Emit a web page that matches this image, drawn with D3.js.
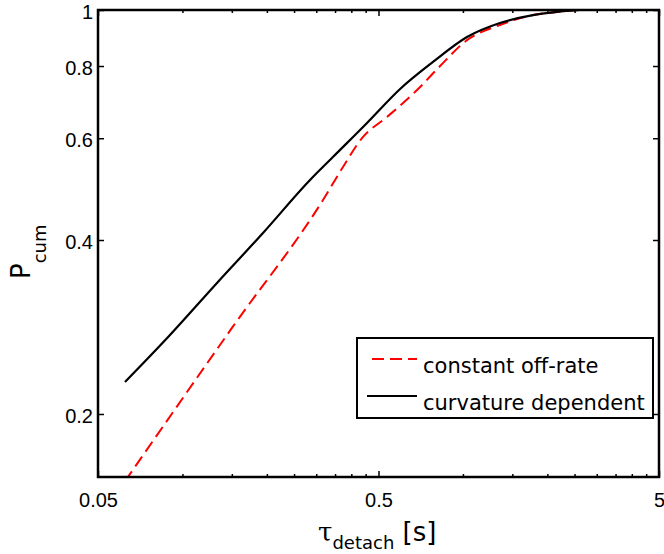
<!DOCTYPE html>
<html>
<head>
<meta charset="utf-8">
<script src="https://cdn.jsdelivr.net/npm/d3@7"></script>
<style>
  body { margin: 0; background: #fff; }
</style>
</head>
<body>
<div id="chart"></div>
<script>
// DATA
const tauConst = [0.0624, 0.151, 0.317, 0.3735, 0.4367, 0.536, 0.686, 0.829, 1.034, 1.355, 1.778, 2.16, 2.61];
const pConst   = [0.153, 0.2829, 0.4691, 0.535, 0.6005, 0.653, 0.727, 0.800, 0.887, 0.942, 0.980, 0.992, 1.0];

const tauCurv = [0.0624, 0.0889, 0.1328, 0.1937, 0.285, 0.344, 0.455, 0.597, 0.782, 1.034, 1.355, 1.778, 2.16, 2.61];
const pCurv   = [0.2272, 0.2718, 0.3371, 0.4113, 0.508, 0.5567, 0.6375, 0.730, 0.813, 0.898, 0.9495, 0.980, 0.992, 1.0];

const xTickLabels = [0.05, 0.5, 5];
const xMinorTicks = [0.1, 0.15, 0.2, 0.25, 0.3, 0.35, 0.4, 0.45, 1, 1.5, 2, 2.5, 3, 3.5, 4, 4.5];
const yTickLabels = [0.2, 0.4, 0.6, 0.8, 1];

const seriesNames = ["constant off-rate", "curvature dependent"];

// SVG
const margin = { top: 10, right: 5, bottom: 77, left: 98 };
const W = 664, H = 554;
const width = W - margin.left - margin.right;
const height = H - margin.top - margin.bottom;

const svg = d3.select("#chart")
    .append("svg")
    .attr("width", W)
    .attr("height", H)
    .style("font-family", "'Liberation Sans', Arial, sans-serif");

const g = svg.append("g")
    .attr("transform", `translate(${margin.left},${margin.top})`);

// SCALES
const xs = d3.scaleLog().domain([0.05, 5]).range([0, width]);
const ys = d3.scaleLog().domain([0.1556, 1]).range([height, 0]);

// clip
svg.append("defs").append("clipPath").attr("id", "plotclip")
    .append("rect").attr("width", width).attr("height", height);

// LINES
const constData = tauConst.map((t, i) => ({ t, p: pConst[i] }));
const curvData = tauCurv.map((t, i) => ({ t, p: pCurv[i] }));

const line = d3.line()
    .x(d => xs(d.t))
    .y(d => ys(d.p))
    .curve(d3.curveMonotoneX);

const plot = g.append("g").attr("clip-path", "url(#plotclip)");

plot.append("path")
    .datum(constData)
    .attr("d", line)
    .attr("fill", "none")
    .attr("stroke", "#ff0000")
    .attr("stroke-width", 2)
    .attr("stroke-dasharray", "12,6");

plot.append("path")
    .datum(curvData)
    .attr("d", line)
    .attr("fill", "none")
    .attr("stroke", "#000")
    .attr("stroke-width", 2.2);

// AXES (ticks inward, box)
function styleAxis(sel) {
    sel.select(".domain").remove();
    sel.selectAll(".tick line").attr("stroke", "#000").attr("stroke-width", 1.5);
    sel.selectAll("text").attr("fill", "#000").style("font-size", "20px");
}

const fmt = d => String(d);

// bottom major + labels
g.append("g")
    .attr("transform", `translate(0,${height})`)
    .call(d3.axisBottom(xs).tickValues(xTickLabels).tickFormat(fmt).tickSize(-6).tickPadding(16))
    .call(styleAxis);
// bottom minor
g.append("g")
    .attr("transform", `translate(0,${height})`)
    .call(d3.axisBottom(xs).tickValues(xMinorTicks).tickFormat("").tickSize(-3))
    .call(styleAxis);
// top
g.append("g")
    .call(d3.axisTop(xs).tickValues(xTickLabels).tickFormat("").tickSize(-6))
    .call(styleAxis);
g.append("g")
    .call(d3.axisTop(xs).tickValues(xMinorTicks).tickFormat("").tickSize(-3))
    .call(styleAxis);
// left
g.append("g")
    .call(d3.axisLeft(ys).tickValues(yTickLabels).tickFormat(fmt).tickSize(-6).tickPadding(5))
    .call(styleAxis)
    .selectAll("text").attr("dy", "0.42em");
// right
g.append("g")
    .attr("transform", `translate(${width},0)`)
    .call(d3.axisRight(ys).tickValues(yTickLabels).tickFormat("").tickSize(-6))
    .call(styleAxis);

// box
g.append("rect")
    .attr("width", width)
    .attr("height", height)
    .attr("fill", "none")
    .attr("stroke", "#000")
    .attr("stroke-width", 2.5);

// AXIS TITLES
const xt = svg.append("text")
    .attr("x", 318)
    .attr("y", 541)
    .style("font-family", "'DejaVu Sans', sans-serif")
    .style("font-size", "26px")
    .attr("fill", "#000");
xt.append("tspan").style("font-family", "'DejaVu Serif', serif").text("τ");
xt.append("tspan").attr("dy", 8).style("font-size", "18px").text("detach");
xt.append("tspan").attr("dy", -8).text(" [s]");

const yt = svg.append("text")
    .attr("transform", "translate(30,279) rotate(-90)")
    .style("font-family", "'DejaVu Sans', sans-serif")
    .style("font-size", "26px")
    .attr("fill", "#000");
yt.append("tspan").text("P");
yt.append("tspan").attr("dy", 16).style("font-size", "18px").text("cum");

// LEGEND
const legend = svg.append("g").attr("transform", "translate(357,338)");
legend.append("rect")
    .attr("width", 296)
    .attr("height", 80)
    .attr("fill", "#fff")
    .attr("stroke", "#000")
    .attr("stroke-width", 2);

const legendItems = [
    { name: seriesNames[0], color: "#ff0000", dash: "12,6", y: 21, x1: 15 },
    { name: seriesNames[1], color: "#000", dash: null, y: 58, x1: 10 }
];
const li = legend.selectAll("g.item")
    .data(legendItems)
    .enter()
    .append("g")
    .attr("class", "item");
li.append("line")
    .attr("x1", d => d.x1)
    .attr("x2", 60)
    .attr("y1", d => d.y)
    .attr("y2", d => d.y)
    .attr("stroke", d => d.color)
    .attr("stroke-width", 2)
    .attr("stroke-dasharray", d => d.dash);
li.append("text")
    .attr("x", 66)
    .attr("y", d => d.y + 14)
    .style("font-family", "'DejaVu Sans', sans-serif")
    .style("font-size", "21px")
    .style("font-weight", 500)
    .attr("fill", "#000")
    .text(d => d.name);
</script>
</body>
</html>
